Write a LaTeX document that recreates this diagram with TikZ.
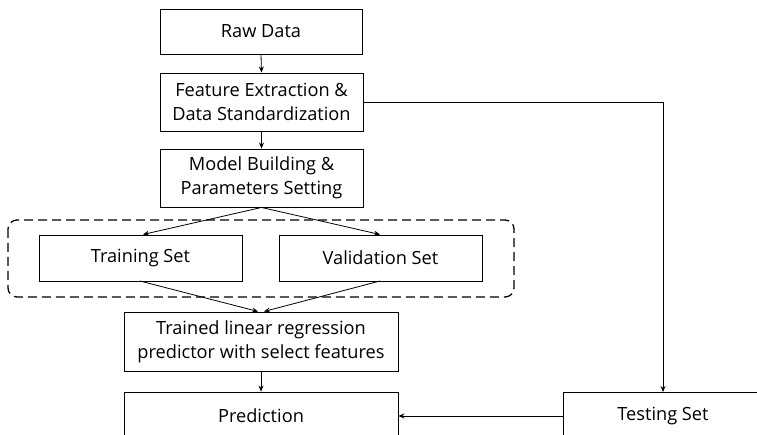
\documentclass[tikz,border=0pt]{standalone}
\usepackage{fontspec}
\setmainfont{Open Sans}
\usetikzlibrary{arrows.meta}
\tikzset{
  lbl/.style={font=\fontsize{18.2}{24}\selectfont},
  box/.style={draw, line width=0.9pt, inner sep=0pt, align=center, lbl},
  conn/.style={line width=0.8pt, -{Stealth[length=6pt,width=5pt]}},
  group/.style={draw, line width=1.3pt, dash pattern=on 9pt off 5pt, rounded corners=9pt}
}
\begin{document}
\begin{tikzpicture}[x=1pt,y=-1pt]
\useasboundingbox (0,0) rectangle (757,435);
\clip (0,0) rectangle (757,435);
\node[box, minimum width=202pt, minimum height=45pt] (raw) at (261,31.5) {Raw Data};
\node[box, minimum width=203pt, minimum height=58pt] (feat) at (261.5,102) {Feature Extraction \&\\Data Standardization};
\node[box, minimum width=203pt, minimum height=58pt] (model) at (261.5,178) {Model Building \&\\Parameters Setting};
\draw[group] (8,220) rectangle (514,297);
\node[box, minimum width=203pt, minimum height=46pt] (train) at (140.5,258) {Training Set};
\node[box, minimum width=203pt, minimum height=46pt] (valid) at (380.5,258) {Validation Set};
\node[box, minimum width=274pt, minimum height=59pt] (trained) at (261,341.5) {Trained linear regression\\predictor with select features};
\node[box, minimum width=274pt, minimum height=48pt] (pred) at (261,416) {Prediction};
\node[box, minimum width=200pt, minimum height=48pt, anchor=north west] (test) at (563,392) {};
\node[lbl] (testlbl) at (663,416) {Testing Set};
\coordinate (corner) at (663,102);
\draw[conn] (raw.south) -- (feat.north);
\draw[conn] (feat.south) -- (model.north);
\draw[conn] (model.south) -- (143,234.5);
\draw[conn] (model.south) -- (380,234.5);
\draw[conn] (140,281) -- (258,311.5);
\draw[conn] (380,281) -- (264,311.5);
\draw[conn] (trained.south) -- (pred.north);
\draw[conn] (feat.east) -- (corner) -- (663,392);
\draw[conn] (563,416) -- (pred.east);
\end{tikzpicture}
\end{document}
